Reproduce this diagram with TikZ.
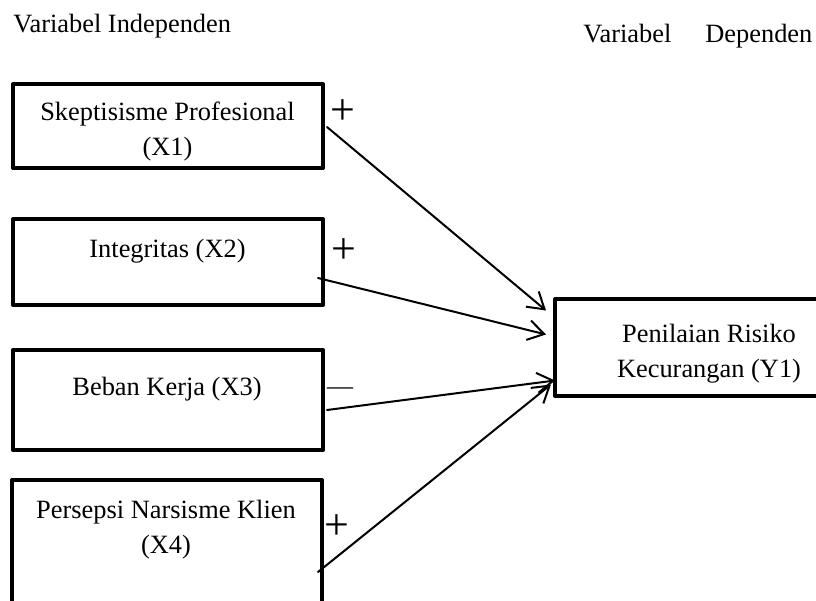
\documentclass[tikz,border=0pt]{standalone}
\usepackage{fontspec}
\setmainfont{Liberation Serif}
\usetikzlibrary{arrows.meta,calc,positioning}
\tikzset{
	varbox/.style={draw,line width=2pt,line join=round,inner sep=0pt,minimum width=155pt},
	vartext/.style={inner sep=0pt,align=center,font=\fontsize{13.2}{17.5}\selectfont},
	sign/.style={inner sep=0pt,font=\fontsize{22}{26}\selectfont},
	link/.style={line width=1pt,-{Straight Barb[length=8pt,width=10pt]}}
}
\begin{document}
\begin{tikzpicture}[x=0.5pt,y=-0.5pt,line join=round,line cap=round]
			\def\W{816}\def\H{601}
			\useasboundingbox (0,0) rectangle (\W,\H);
			\clip (0,0) rectangle (\W,\H);
			\node[vartext,anchor=base west] (hind) at (13,32) {Variabel Independen};
			\node[vartext,anchor=base west] (hdep) at (583,42) {Variabel\hspace{17pt}Dependen};
			\node[varbox,minimum height=42pt] (x1) at (168,126) {};
			\node[varbox,minimum height=43pt] (x2) at (168,262) {};
			\node[varbox,minimum height=50pt] (x3) at (168,400) {};
			\node[varbox,minimum height=80pt] (x4) at (167,560) {};
			\node[varbox,minimum width=152.5pt,minimum height=48.5pt] (y1) at (707.5,347.5) {};
			\node[vartext,anchor=base] (x1t) at (167.5,155) {Skeptisisme Profesional\\(X1)};
			\node[vartext,anchor=base] (x2t) at (167.5,257) {Integritas (X2)};
			\node[vartext,anchor=base] (x3t) at (167,395) {Beban Kerja (X3)};
			\node[vartext,anchor=base] (x4t) at (166,553) {Persepsi Narsisme Klien\\(X4)};
			\node[vartext,anchor=base] (y1t) at (709,377) {Penilaian Risiko\\Kecurangan (Y1)};
			\node[sign] (s1) at (343,112) {+};
			\node[sign] (s2) at (344,251) {+};
			\node[inner sep=0pt,font=\fontsize{13}{15}\selectfont] (s3) at (340,391) {—};
			\node[sign] (s4) at (337,527) {+};
			\coordinate (x1o) at ($(x1.east)+(2,1)$);
			\coordinate (x2o) at ($(x2.east)+(-7,16)$);
			\coordinate (x3o) at ($(x3.east)+(2,10)$);
			\coordinate (x4o) at ($(x4.east)+(-6,12)$);
			\draw[link] (x1o) -- ($(y1.west)+(-7,-37)$);
			\draw[link] (x2o) -- ($(y1.west)+(-7,-13)$);
			\draw[link] (x3o) -- ($(y1.west)+(2,33)$);
			\draw[link] (x4o) -- ($(y1.west)+(-2,37)$);
\end{tikzpicture}
\end{document}
